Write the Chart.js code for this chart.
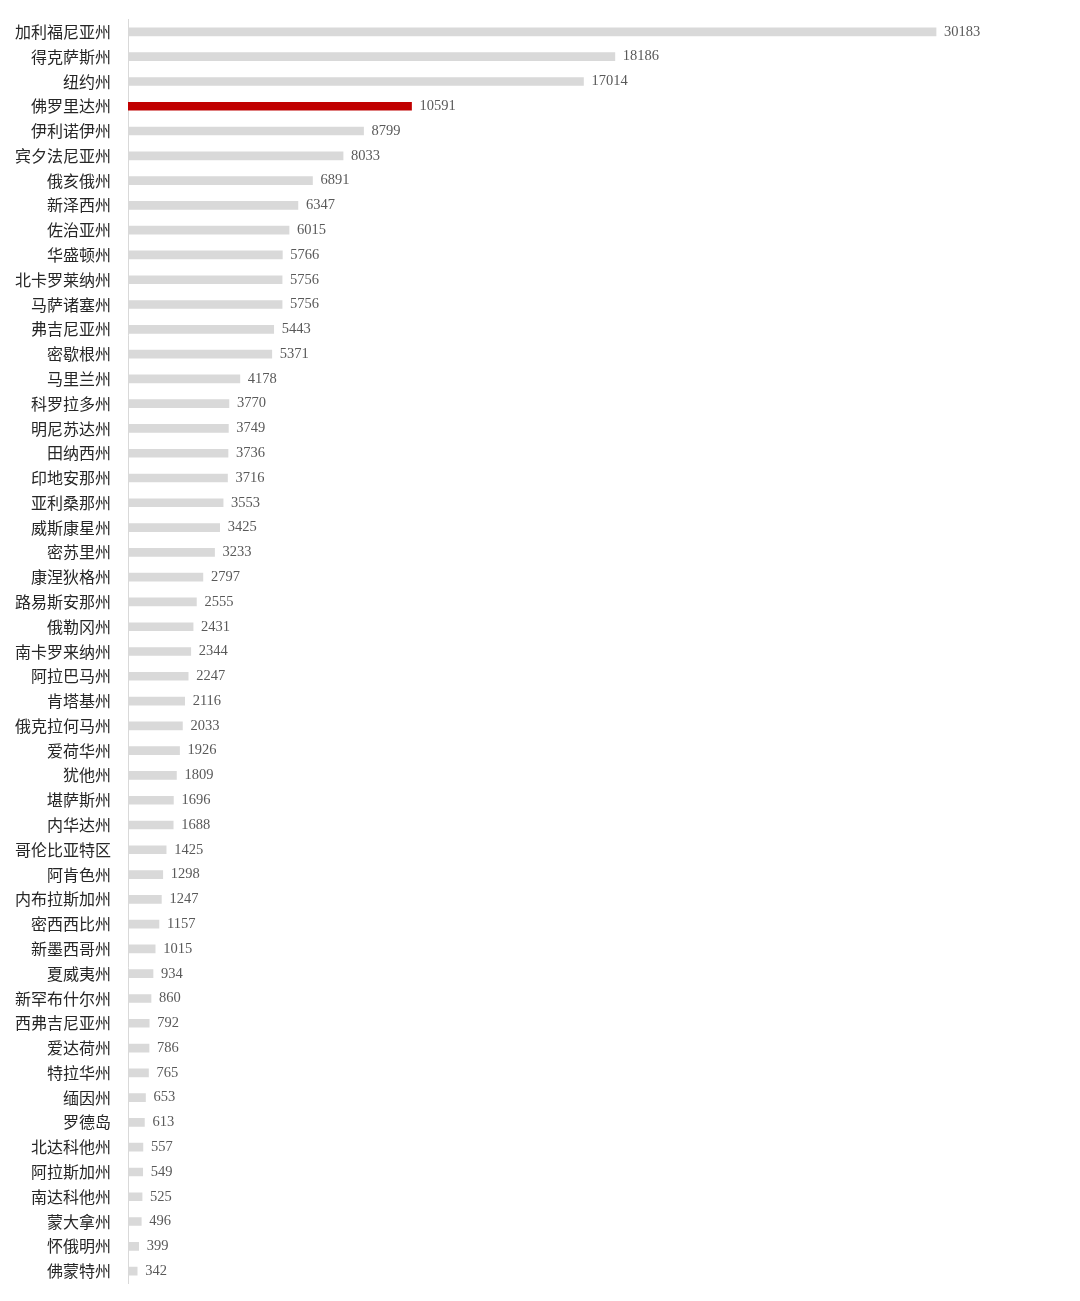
<!DOCTYPE html>
<html><head><meta charset="utf-8">
<script src="https://cdn.jsdelivr.net/npm/chart.js@4"></script>
<style>html,body{margin:0;padding:0;background:#fff}#wrap{width:1080px;height:1301px}</style>
</head><body><div id="wrap"><canvas id="c"></canvas></div>
<script>
const states = ["加利福尼亚州","得克萨斯州","纽约州","佛罗里达州","伊利诺伊州","宾夕法尼亚州","俄亥俄州","新泽西州","佐治亚州","华盛顿州","北卡罗莱纳州","马萨诸塞州","弗吉尼亚州","密歇根州","马里兰州","科罗拉多州","明尼苏达州","田纳西州","印地安那州","亚利桑那州","威斯康星州","密苏里州","康涅狄格州","路易斯安那州","俄勒冈州","南卡罗来纳州","阿拉巴马州","肯塔基州","俄克拉何马州","爱荷华州","犹他州","堪萨斯州","内华达州","哥伦比亚特区","阿肯色州","内布拉斯加州","密西西比州","新墨西哥州","夏威夷州","新罕布什尔州","西弗吉尼亚州","爱达荷州","特拉华州","缅因州","罗德岛","北达科他州","阿拉斯加州","南达科他州","蒙大拿州","怀俄明州","佛蒙特州"];
const values = [30183,18186,17014,10591,8799,8033,6891,6347,6015,5766,5756,5756,5443,5371,4178,3770,3749,3736,3716,3553,3425,3233,2797,2555,2431,2344,2247,2116,2033,1926,1809,1696,1688,1425,1298,1247,1157,1015,934,860,792,786,765,653,613,557,549,525,496,399,342];
const highlight = "佛罗里达州";
const colors = states.map(s => s === highlight ? "#c00000" : "#d9d9d9");

const valueLabels = {
  id: 'valueLabels',
  afterDatasetsDraw(chart) {
    const ctx = chart.ctx;
    const meta = chart.getDatasetMeta(0);
    ctx.save();
    ctx.font = '14.5px "Liberation Serif", "Times New Roman", serif';
    ctx.fillStyle = '#595959';
    ctx.textAlign = 'left';
    ctx.textBaseline = 'middle';
    meta.data.forEach((bar, i) => {
      ctx.fillText(String(values[i]), bar.x + 8, bar.y);
    });
    ctx.restore();
  }
};

new Chart(document.getElementById('c'), {
  type: 'bar',
  data: { labels: states, datasets: [{ data: values, backgroundColor: colors, barThickness: 8 }] },
  options: {
    indexAxis: 'y',
    responsive: true,
    maintainAspectRatio: false,
    animation: false,
    layout: { padding: { top: 19.5, bottom: 17.5, right: 15, left: 0 } },
    plugins: { legend: { display: false }, tooltip: { enabled: false } },
    scales: {
      x: { display: false, min: 0, max: 35000 },
      y: {
        grid: { display: false, drawTicks: false },
        border: { display: true, color: '#d9d9d9', width: 1 },
        ticks: { padding: 17, color: '#262626', font: { family: '"Noto Sans CJK SC", sans-serif', size: 16 } },
        afterFit(scale) { scale.width = 128; scale.paddingTop = 0; scale.paddingBottom = 0; }
      }
    }
  },
  plugins: [valueLabels]
});
</script>
</body></html>
